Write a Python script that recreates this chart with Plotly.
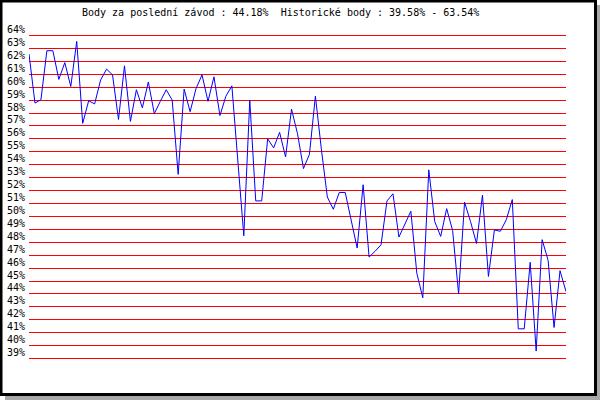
import plotly.graph_objects as go

# Race index (x) and points percentage (y)
race_index = list(range(91))
points_pct = [
    62.56, 58.77, 59.03, 62.82, 62.82, 60.6, 61.9, 60.05, 63.54, 57.2,
    58.95, 58.7, 60.55, 61.4, 60.95, 57.5, 61.65, 57.35, 59.8, 58.4,
    60.4, 57.95, 58.9, 59.8, 59.0, 53.25, 59.85, 58.1, 59.9, 60.95,
    58.9, 60.8, 57.8, 59.3, 60.1, 54.6, 48.5, 59.0, 51.2, 51.2,
    56.0, 55.3, 56.5, 54.6, 58.3, 56.4, 53.7, 54.8, 59.3, 55.2,
    51.5, 50.55, 51.85, 51.85, 49.75, 47.55, 52.45, 46.85, 47.3, 47.8,
    51.2, 51.75, 48.4, 49.35, 50.4, 45.6, 43.7, 53.6, 49.6, 48.45,
    50.6, 48.9, 44.0, 51.1, 49.6, 47.9, 51.65, 45.35, 48.95, 48.85,
    49.75, 51.3, 41.3, 41.3, 46.45, 39.58, 48.2, 46.6, 41.4, 45.8,
    44.18,
]
tick_values = list(range(39, 65))
tick_labels = [f"{v}%" for v in tick_values]
title_text = "Body za poslední závod : 44.18%\u00a0\u00a0Historické body : 39.58% - 63.54%"

W, H = 600, 400
L, R, T, B = 29, 34, 29, 35
pw, ph = W - L - R, H - T - B

def px(x):
    return (x - L) / pw

def py(y):
    return (H - B - y) / ph

FONT = "DejaVu Sans Mono"

fig = go.Figure()
fig.add_trace(go.Scatter(
    x=race_index, y=points_pct, mode="lines",
    line=dict(color="#0000ff", width=1),
    hoverinfo="skip", showlegend=False,
))

fig.update_layout(
    width=W, height=H,
    margin=dict(l=L, r=R, t=T, b=B, pad=0, autoexpand=False),
    paper_bgcolor="white", plot_bgcolor="white",
    font=dict(family=FONT, size=10, color="black"),
    showlegend=False,
    xaxis=dict(range=[0, 90], showgrid=False, zeroline=False, showline=False,
               showticklabels=False, ticks="", fixedrange=True,
               automargin=False),
    yaxis=dict(range=[38.5, 64.5], tickvals=tick_values, ticktext=tick_labels,
               showgrid=True, gridcolor="#ff0000", gridwidth=1,
               zeroline=False, showline=False, ticks="",
               ticklabelshift=-6, ticklabelstandoff=3,
               tickfont=dict(family=FONT, size=10, color="black"),
               fixedrange=True, automargin=False),
    annotations=[dict(
        text=title_text, xref="paper", yref="paper",
        x=px(280.5), y=py(13), xanchor="center", yanchor="middle",
        showarrow=False, font=dict(family=FONT, size=10, color="black"),
    )],
    shapes=[
        # grey shadow
        dict(type="rect", xref="paper", yref="paper",
             x0=px(597), x1=px(600), y0=py(5), y1=py(400),
             fillcolor="#a8a8a8", line=dict(width=0), layer="above"),
        dict(type="rect", xref="paper", yref="paper",
             x0=px(5), x1=px(600), y0=py(396), y1=py(400),
             fillcolor="#a8a8a8", line=dict(width=0), layer="above"),
        # black frame
        dict(type="rect", xref="paper", yref="paper",
             x0=px(1), x1=px(595.5), y0=py(1), y1=py(394.5),
             fillcolor="rgba(0,0,0,0)", line=dict(color="black", width=3),
             layer="above"),
    ],
)

fig.write_html(
    "out.html",
    config={"displayModeBar": False},
    post_script="document.body.style.margin='0';document.body.style.padding='0';",
)
